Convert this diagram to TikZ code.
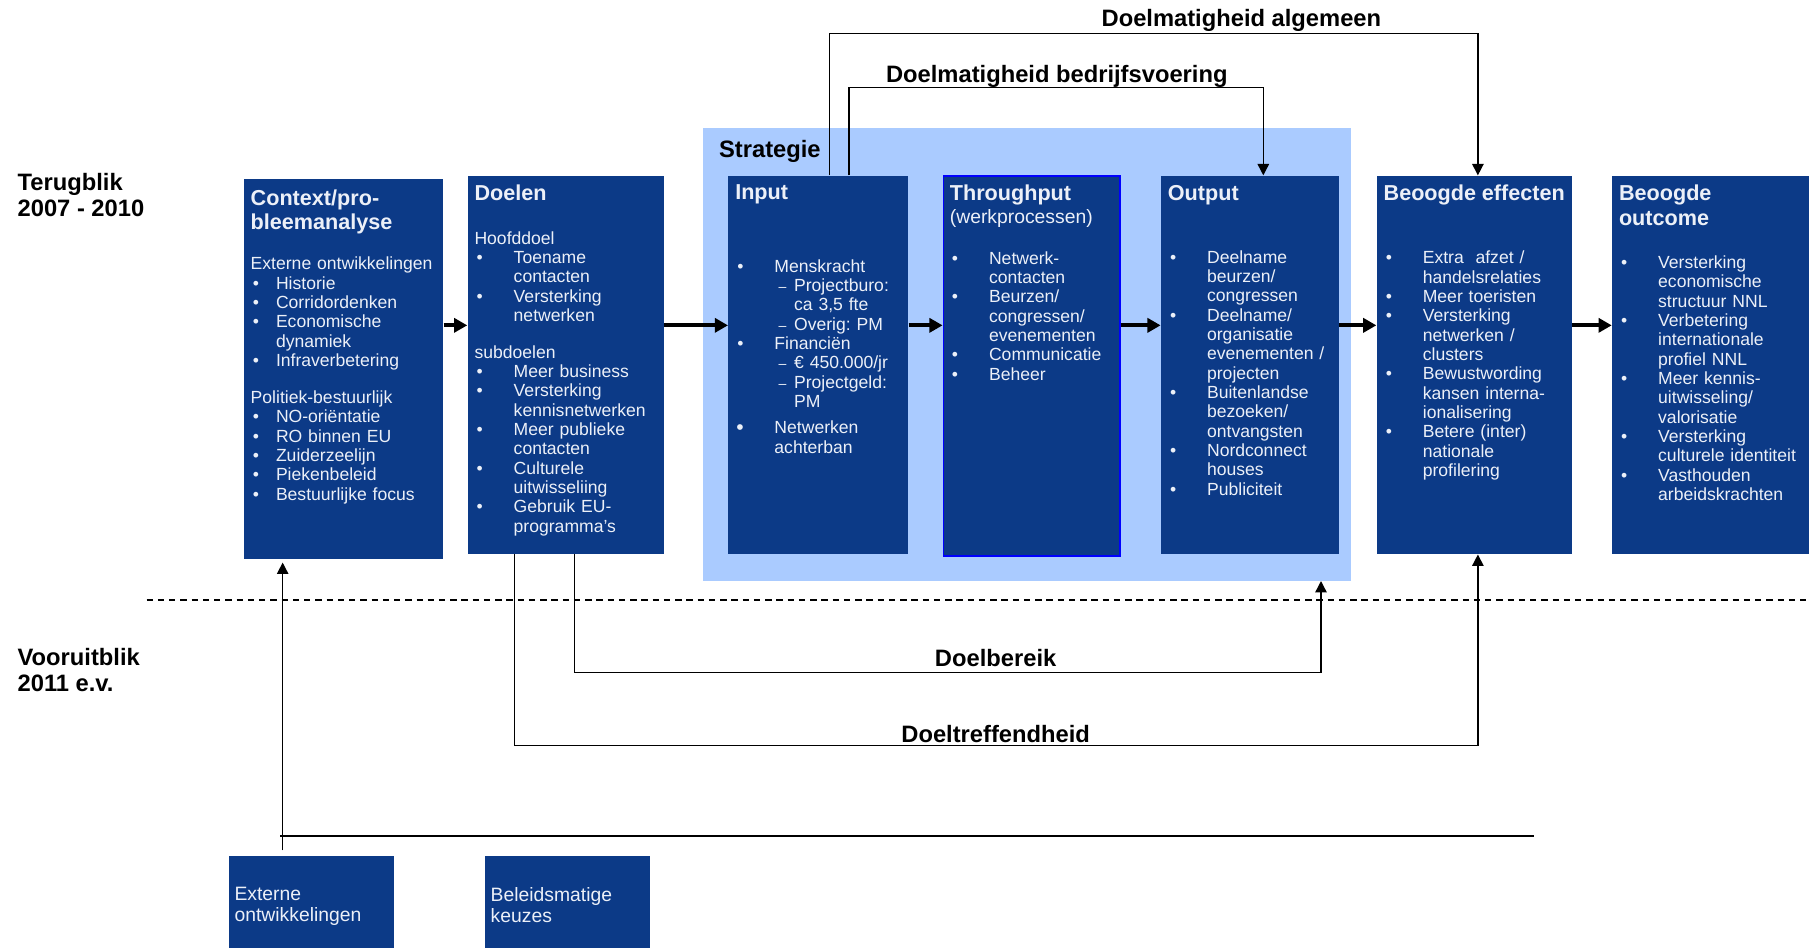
\documentclass[tikz,border=0pt]{standalone}
\usepackage{fontspec}
\setmainfont{Liberation Sans}
\usepackage{tikz}
\usetikzlibrary{arrows.meta, positioning, calc}

\definecolor{boxblue}{RGB}{12,58,135}
\definecolor{stratblue}{RGB}{170,203,255}
\definecolor{boxtext}{RGB}{236,240,248}
\definecolor{edgeblue}{RGB}{0,0,255}

% list helpers for the box texts
\newlength{\itemind}
\setlength{\itemind}{22.3pt}
\frenchspacing
\newcommand{\boxtitle}[1]{{\fontsize{12.3}{14}\selectfont\bfseries #1\par}}
\newcommand{\itm}[1]{\par\hangindent=\itemind\hangafter=1\noindent\hbox to\itemind{\hskip1.2pt\textbullet\hfil}#1}
\newcommand{\bigitm}[1]{\par\hangindent=\itemind\hangafter=1\noindent\hbox to\itemind{\hskip0.6pt\raisebox{-0.6pt}{\large\textbullet}\hfil}#1}
\newcommand{\dsh}[1]{\par\hangindent=\dimexpr\itemind+11.2pt\relax\hangafter=1\noindent\hbox to\dimexpr\itemind+11.2pt\relax{\hskip\dimexpr\itemind+2.4pt\relax{\footnotesize\textendash}\hfil}#1}

\tikzset{
	bluebox/.style 2 args={rectangle, fill=boxblue, draw=none, inner sep=0pt, anchor=north west,
		minimum width=#1, minimum height=#2},
	boxtxt/.style={anchor=north west, inner sep=0pt, align=left, text=boxtext,
		text width=#1, font=\fontsize{10}{11}\selectfont},
	smalltxt/.style={anchor=north west, inner sep=0pt, align=left, text=boxtext,
		font=\fontsize{11}{11.8}\selectfont},
	sidelabel/.style={anchor=north west, inner sep=0pt, align=left,
		font=\fontsize{13.5}{15}\selectfont\bfseries},
	linelabel/.style={anchor=north, inner sep=0pt, font=\fontsize{13.5}{15}\selectfont\bfseries},
	flow/.style={-{Triangle[length=7.5pt,width=8pt]}, line width=2.2pt},
	link/.style={-{Triangle[length=6.5pt,width=6.5pt]}, line width=0.8pt},
	axisline/.style={line width=1.1pt},
	divider/.style={line width=1pt, dash pattern=on 3.6pt off 2.8pt},
}

\begin{document}
\begin{tikzpicture}[x=0.2307mm, y=-0.2307mm]
	\useasboundingbox (0,0) rectangle (1568,821);
	\clip (0,0) rectangle (1568,821);

	% strategie block
	\node[rectangle, fill=stratblue, inner sep=0pt, anchor=north west,
		minimum width=129.65mm, minimum height=90.43mm](strategy) at (609,111) {};
	\node[sidelabel](strattitle) at (623,121.5) {Strategie};

	% main boxes
	\node[bluebox={39.91mm}{75.90mm}](context) at (211,155) {};
	\node[bluebox={39.22mm}{75.67mm}](doelen) at (405,152) {};
	\node[bluebox={35.99mm}{75.67mm}](input) at (631,152) {};
	\node[bluebox={35.30mm}{75.90mm}, draw=edgeblue, line width=0.9pt](through) at (817,152) {};
	\node[bluebox={35.53mm}{75.67mm}](output) at (1006,152) {};
	\node[bluebox={38.99mm}{75.67mm}](effect) at (1193,152) {};
	\node[bluebox={42.68mm}{75.67mm}](outcome) at (1397,152) {};
	\node[bluebox={32.99mm}{20.76mm}](extern) at (198,742) {};
	\node[bluebox={32.99mm}{20.76mm}](beleid) at (420,742) {};

	% box texts
	\node[boxtxt=39mm](contexttxt) at ($(context.north west)+(6,9)$) {%
		\setlength{\itemind}{14.4pt}%
		\boxtitle{Context/pro-\newline bleemanalyse}
		\vspace{11.8pt}
		Externe ontwikkelingen
		\itm{Historie}\itm{Corridordenken}\itm{Economische\newline dynamiek}\itm{Infraverbetering}\par
		\vspace{10pt}
		Politiek-bestuurlijk
		\itm{NO-oriëntatie}\itm{RO binnen EU}\itm{Zuiderzeelijn}\itm{Piekenbeleid}\itm{Bestuurlijke focus}\par};
	\node[boxtxt=39mm](doelentxt) at ($(doelen.north west)+(6,8)$) {%
		\boxtitle{Doelen}
		\vspace{13.7pt}
		Hoofddoel
		\itm{Toename\newline contacten}\itm{Versterking\newline netwerken}\par
		\vspace{10pt}
		subdoelen
		\itm{Meer business}\itm{Versterking\newline kennisnetwerken}\itm{Meer publieke\newline contacten}%
		\itm{Culturele\newline uitwisseliing}\itm{Gebruik EU-\newline programma’s}\par};
	\node[boxtxt=36mm](inputtxt) at ($(input.north west)+(6,8)$) {%
		\boxtitle{Input}
		\vspace{30.2pt}
		\itm{Menskracht}\dsh{Projectburo:\newline ca 3,5 fte}\dsh{Overig: PM}%
		\itm{Financiën}\dsh{€ 450.000/jr}\dsh{Projectgeld:\newline PM}\par
		\vspace{4pt}
		\bigitm{Netwerken\newline achterban}\par};
	\node[boxtxt=36mm](throughtxt) at ($(through.north west)+(6,8)$) {%
		\boxtitle{Throughput}
		{\fontsize{11}{13}\selectfont (werkprocessen)\par}
		\vspace{12.2pt}
		\itm{Netwerk-\newline contacten}\itm{Beurzen/\newline congressen/\newline evenementen}%
		\itm{Communicatie}\itm{Beheer}\par};
	\node[boxtxt=36mm](outputtxt) at ($(output.north west)+(6,8)$) {%
		\boxtitle{Output}
		\vspace{24.9pt}
		\itm{Deelname\newline beurzen/\newline congressen}\itm{Deelname/\newline organisatie\newline evenementen /\newline projecten}%
		\itm{Buitenlandse\newline bezoeken/\newline ontvangsten}\itm{Nordconnect\newline houses}\itm{Publiciteit}\par};
	\node[boxtxt=39mm](effecttxt) at ($(effect.north west)+(6,8)$) {%
		\boxtitle{Beoogde effecten}
		\vspace{24.9pt}
		\itm{Extra\ \ afzet /\newline handelsrelaties}\itm{Meer toeristen}\itm{Versterking\newline netwerken /\newline clusters}%
		\itm{Bewustwording\newline kansen interna-\newline ionalisering}\itm{Betere (inter)\newline nationale\newline profilering}\par};
	\node[boxtxt=40mm](outcometxt) at ($(outcome.north west)+(6,8)$) {%
		\boxtitle{Beoogde\newline outcome}
		\vspace{13.7pt}
		\itm{Versterking\newline economische\newline structuur NNL}\itm{Verbetering\newline internationale\newline profiel NNL}%
		\itm{Meer kennis-\newline uitwisseling/\newline valorisatie}\itm{Versterking\newline culturele identiteit}%
		\itm{Vasthouden\newline arbeidskrachten}\par};
	\node[smalltxt](externtxt) at ($(extern.north west)+(5,27)$) {Externe\\ontwikkelingen};
	\node[smalltxt](beleidtxt) at ($(beleid.north west)+(5,27)$) {Beleidsmatige\\keuzes};

	% side labels
	\node[sidelabel](terug) at (15,149.5) {Terugblik\\2007 - 2010};
	\node[sidelabel](vooruit) at (15,561.5) {Vooruitblik\\2011 e.v.};

	% main flow
	\coordinate (ay) at (0,282);
	\draw[flow](context.east |- ay)--(doelen.west |- ay);
	\draw[flow](doelen.east |- ay)--(input.west |- ay);
	\draw[flow](input.east |- ay)--(through.west |- ay);
	\draw[flow](through.east |- ay)--(output.west |- ay);
	\draw[flow](output.east |- ay)--(effect.west |- ay);
	\draw[flow](effect.east |- ay)--(outcome.west |- ay);

	% efficiency loops (top)
	\coordinate (algR) at (1281,29);
	\coordinate (bedR) at (1095,76);
	\draw[link]($(input.north west)+(88,0)$) |- (algR) -- (algR |- effect.north);
	\draw[link]($(input.north west)+(105,0)$) |- (bedR) -- (bedR |- output.north);
	\node[linelabel](lblalg) at (1076,7.6) {Doelmatigheid algemeen};
	\node[linelabel](lblbed) at (916,56.6) {Doelmatigheid bedrijfsvoering};

	% effectiveness loops (bottom)
	\coordinate (berR) at (1145,583);
	\coordinate (trefR) at (1281,646);
	\draw[link]($(doelen.south west)+(93,0)$) |- (berR) -- (berR |- strategy.south);
	\draw[link]($(doelen.south west)+(41,0)$) |- (trefR) -- (trefR |- effect.south);
	\node[linelabel](lblbereik) at (863,562.6) {Doelbereik};
	\node[linelabel](lbltreff) at (863,628.6) {Doeltreffendheid};

	% divider and base line
	\coordinate (dl) at (127,520);
	\coordinate (dr) at (1568,520);
	\draw[divider](dl)--(dr);
	\coordinate (hl) at (243,725);
	\coordinate (hr) at (1330,725);
	\draw[axisline](hl)--(hr);
	\coordinate (extup) at (245,737);
	\draw[link](extup)--($(extup |- context.south)+(0,3)$);
\end{tikzpicture}
\end{document}
